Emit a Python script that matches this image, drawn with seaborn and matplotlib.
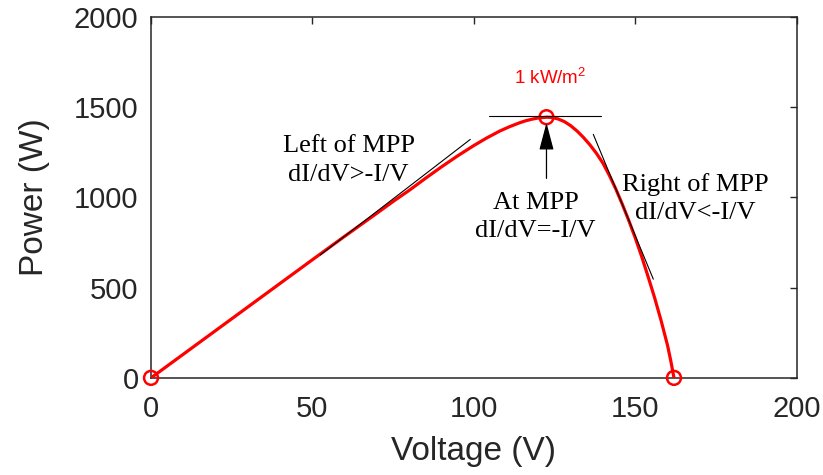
import matplotlib
matplotlib.use("Agg")
import matplotlib.pyplot as plt
import seaborn as sns
import pandas as pd

# P-V curve of the PV array at 1 kW/m^2
voltage = [0, 10, 20, 30, 40, 50, 60, 70, 75, 80, 85, 90, 95, 100, 104, 108,
           111, 114, 116, 118, 120, 122.5, 124, 126, 128, 130, 132, 134, 136,
           138, 140, 142, 144, 146, 148, 150, 152, 154, 156, 158, 160, 161, 162]
power = [0, 131, 262, 393, 524, 655, 785, 913, 978, 1040, 1106, 1170, 1231,
         1288, 1330, 1368, 1392, 1413, 1425, 1434, 1441, 1445, 1444, 1436,
         1421, 1398, 1368, 1332, 1291, 1244, 1190, 1122, 1046, 962, 872, 776,
         672, 560, 444, 318, 180, 95, 0]

# special points: short circuit, maximum power point, open circuit
marker_v = [0, 122.5, 162]
marker_p = [0, 1445, 0]
mpp_v, mpp_p = 122.5, 1445

# tangent segments
left_tan_v = [52.4, 98.9]
left_tan_p = [681, 1322]
mpp_tan_v = [104.6, 139.5]
mpp_tan_p = [1450, 1450]
right_tan_v = [137.0, 155.6]
right_tan_p = [1350, 547]

x_ticks = [0, 50, 100, 150, 200]
y_ticks = [0, 500, 1000, 1500, 2000]

sns.set_theme(style="white")
plt.rcParams["font.family"] = ["Liberation Sans", "DejaVu Sans"]
plt.rcParams["mathtext.fontset"] = "custom"
plt.rcParams["mathtext.rm"] = "Liberation Sans"
plt.rcParams["mathtext.default"] = "regular"

axis_grey = "#262626"
fig = plt.figure(figsize=(8.23, 4.75), dpi=100)
ax = fig.add_axes([0.1835, 0.2045, 0.7845, 0.7595])

curve = pd.DataFrame({"Voltage (V)": voltage, "Power (W)": power})
sns.lineplot(data=curve, x="Voltage (V)", y="Power (W)", sort=False,
             color="#ff0000", linewidth=2.3, ax=ax, zorder=3)

pts = pd.DataFrame({"v": marker_v, "p": marker_p})
sns.scatterplot(data=pts, x="v", y="p", marker="o", s=100,
                facecolors="none", edgecolor="#ff0000", linewidth=1.8,
                ax=ax, zorder=4, clip_on=False)

for tv, tp in [(left_tan_v, left_tan_p), (mpp_tan_v, mpp_tan_p),
               (right_tan_v, right_tan_p)]:
    ax.plot(tv, tp, color="black", linewidth=0.8, zorder=5)

ax.annotate("", xy=(mpp_v, 1414), xytext=(mpp_v, 1106),
            arrowprops=dict(arrowstyle="-|>,head_length=1.7,head_width=0.45",
                            mutation_scale=10, color="black", lw=0.9,
                            shrinkA=0, shrinkB=0), zorder=6)

serif = ["Liberation Serif", "DejaVu Serif"]
ax.text(61.2, 1205, "Left of MPP\ndI/dV>-I/V", family=serif, fontsize=19,
        ha="center", va="center", linespacing=1.45, color="black")
ax.text(119.1, 890, "At MPP\ndI/dV=-I/V", family=serif, fontsize=19,
        ha="center", va="center", linespacing=1.35, color="black")
ax.text(168.7, 992, "Right of MPP\ndI/dV<-I/V", family=serif, fontsize=19,
        ha="center", va="center", linespacing=1.35, color="black")
ax.text(123.7, 1665, r"1 kW/m$^{2}$", fontsize=13.5, color="#ff0000",
        ha="center", va="center")

ax.set_xlim(0, 200)
ax.set_ylim(0, 2000)
ax.set_xticks(x_ticks)
ax.set_yticks(y_ticks)
ax.set_xlabel("Voltage (V)", fontsize=24, color=axis_grey, labelpad=10)
ax.set_ylabel("Power (W)", fontsize=24, color=axis_grey, labelpad=17)
ax.tick_params(axis="both", direction="in", length=5, width=1,
               colors=axis_grey, labelsize=21, top=True, right=True)
ax.tick_params(axis="x", pad=12)
ax.tick_params(axis="y", pad=9)
for side in ax.spines.values():
    side.set_visible(True)
    side.set_color(axis_grey)
    side.set_linewidth(1.1)

fig.savefig("out.png", dpi=100)
